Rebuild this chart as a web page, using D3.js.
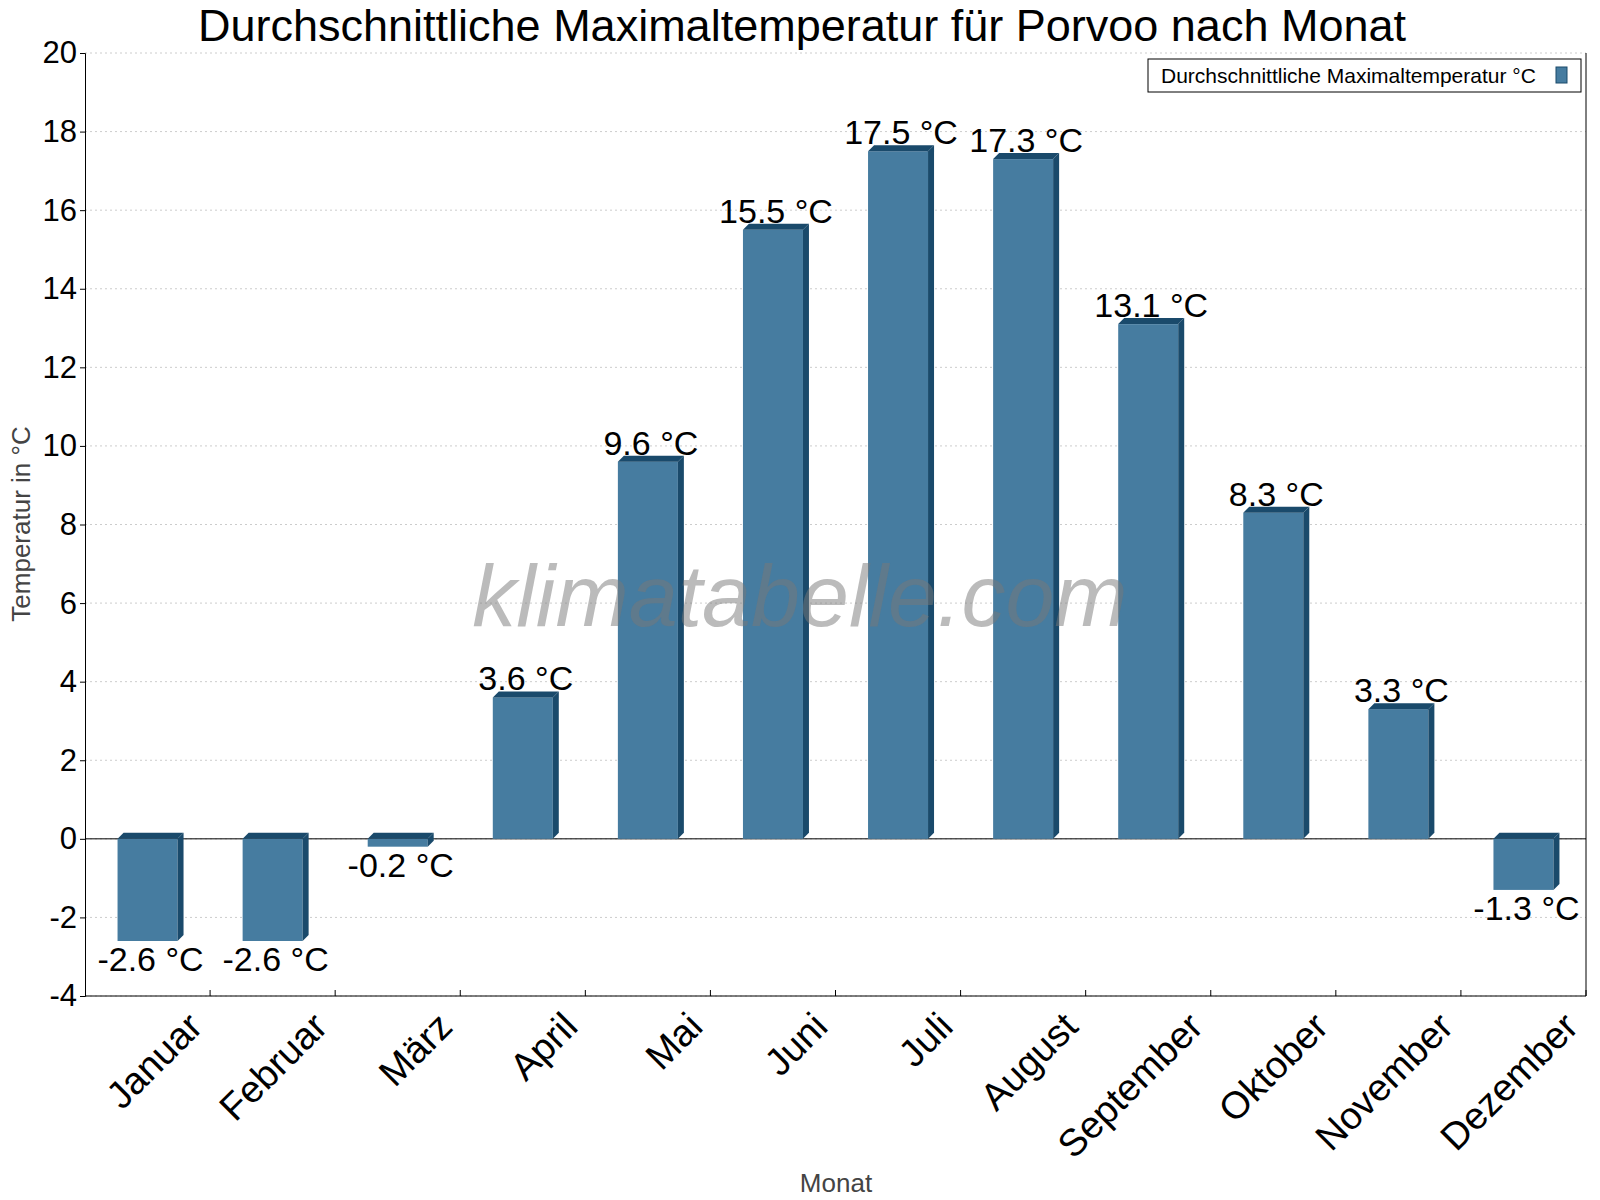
<!DOCTYPE html><html><head><meta charset="utf-8"><script src="https://cdn.jsdelivr.net/npm/d3@7"></script>
<style>body{margin:0;background:#fff}text{font-family:"Liberation Sans",Arial,sans-serif}</style></head><body>
<svg id="c" width="1600" height="1200"></svg>
<script>
const months=["Januar","Februar","März","April","Mai","Juni","Juli","August","September","Oktober","November","Dezember"];
const values=[-2.6,-2.6,-0.2,3.6,9.6,15.5,17.5,17.3,13.1,8.3,3.3,-1.3];
const yTicks=[-4,-2,0,2,4,6,8,10,12,14,16,18,20];
const svg=d3.select("#c");
const L=85,R=1586,T=53,B=996;
const x=d3.scaleBand().domain(months).range([L,R]);
const y=d3.scaleLinear().domain([-4,20]).range([B,T]);
const bw=60,d=6;
svg.append("g").selectAll("line").data(yTicks).join("line").attr("x1",L).attr("x2",R).attr("y1",v=>y(v)).attr("y2",v=>y(v)).attr("stroke","#ccc").attr("stroke-dasharray","2,3");
svg.append("line").attr("x1",L).attr("x2",R).attr("y1",y(0)).attr("y2",y(0)).attr("stroke","#000");
const g=svg.append("g");
months.forEach((m,i)=>{
 const v=values[i],cx=x(m)+x.bandwidth()/2,x0=cx-bw/2,x1=cx+bw/2;
 const top=y(Math.max(v,0)),bot=y(Math.min(v,0));
 g.append("rect").attr("x",x0).attr("y",top).attr("width",bw).attr("height",bot-top).attr("fill","#467ca0");
 g.append("path").attr("d",`M${x0},${top}L${x0+d},${top-d}L${x1+d},${top-d}L${x1},${top}Z`).attr("fill","#1a4a6b");
 g.append("path").attr("d",`M${x1},${top}L${x1+d},${top-d}L${x1+d},${bot-d}L${x1},${bot}Z`).attr("fill","#1a4a6b");
 const ly=v>=0?top-7:bot+30;
 g.append("text").attr("x",cx+3).attr("y",ly).attr("text-anchor","middle").attr("font-size",34).text(v.toFixed(1)+" °C");
});
svg.append("text").attr("x",800).attr("y",626).attr("text-anchor","middle").attr("font-size",88).attr("font-style","italic").attr("fill","rgba(120,120,120,0.5)").text("klimatabelle.com");
const ya=svg.append("g").attr("transform",`translate(${L},0)`).call(d3.axisLeft(y).tickValues(yTicks).tickSize(5).tickFormat(v=>String(v)));
ya.selectAll("text").attr("font-size",31).attr("fill","#000");
ya.select(".domain").attr("stroke","#000");
svg.append("line").attr("x1",R).attr("x2",R).attr("y1",T).attr("y2",B).attr("stroke","#000");
const xa=svg.append("g").attr("transform",`translate(0,${B})`);
xa.append("line").attr("x1",L).attr("x2",R).attr("stroke","#000");
xa.selectAll("line.t").data(d3.range(1,13)).join("line").attr("class","t").attr("x1",i=>L+i*x.bandwidth()).attr("x2",i=>L+i*x.bandwidth()).attr("y1",0).attr("y2",-6).attr("stroke","#000");
xa.selectAll("text.m").data(months).join("text").attr("class","m").attr("font-size",38)
 .attr("text-anchor","end").attr("transform",m=>`translate(${x(m)+x.bandwidth()/2+38},${14}) rotate(-45)`).attr("dy","0.7em").text(m=>m);
svg.append("text").attr("x",836).attr("y",1192).attr("text-anchor","middle").attr("font-size",26).attr("fill","#444").text("Monat");
svg.append("text").attr("transform","translate(30,524) rotate(-90)").attr("text-anchor","middle").attr("font-size",26).attr("fill","#444").text("Temperatur in °C");
svg.append("text").attr("x",802).attr("y",41).attr("text-anchor","middle").attr("font-size",45).text("Durchschnittliche Maximaltemperatur für Porvoo nach Monat");
svg.append("rect").attr("x",1148).attr("y",59).attr("width",433).attr("height",33).attr("fill","#fff").attr("stroke","#000");
svg.append("text").attr("x",1161).attr("y",83).attr("font-size",21).text("Durchschnittliche Maximaltemperatur °C");
svg.append("rect").attr("x",1556).attr("y",67).attr("width",11).attr("height",16).attr("fill","#467ca0").attr("stroke","#1a4a6b");
</script></body></html>
